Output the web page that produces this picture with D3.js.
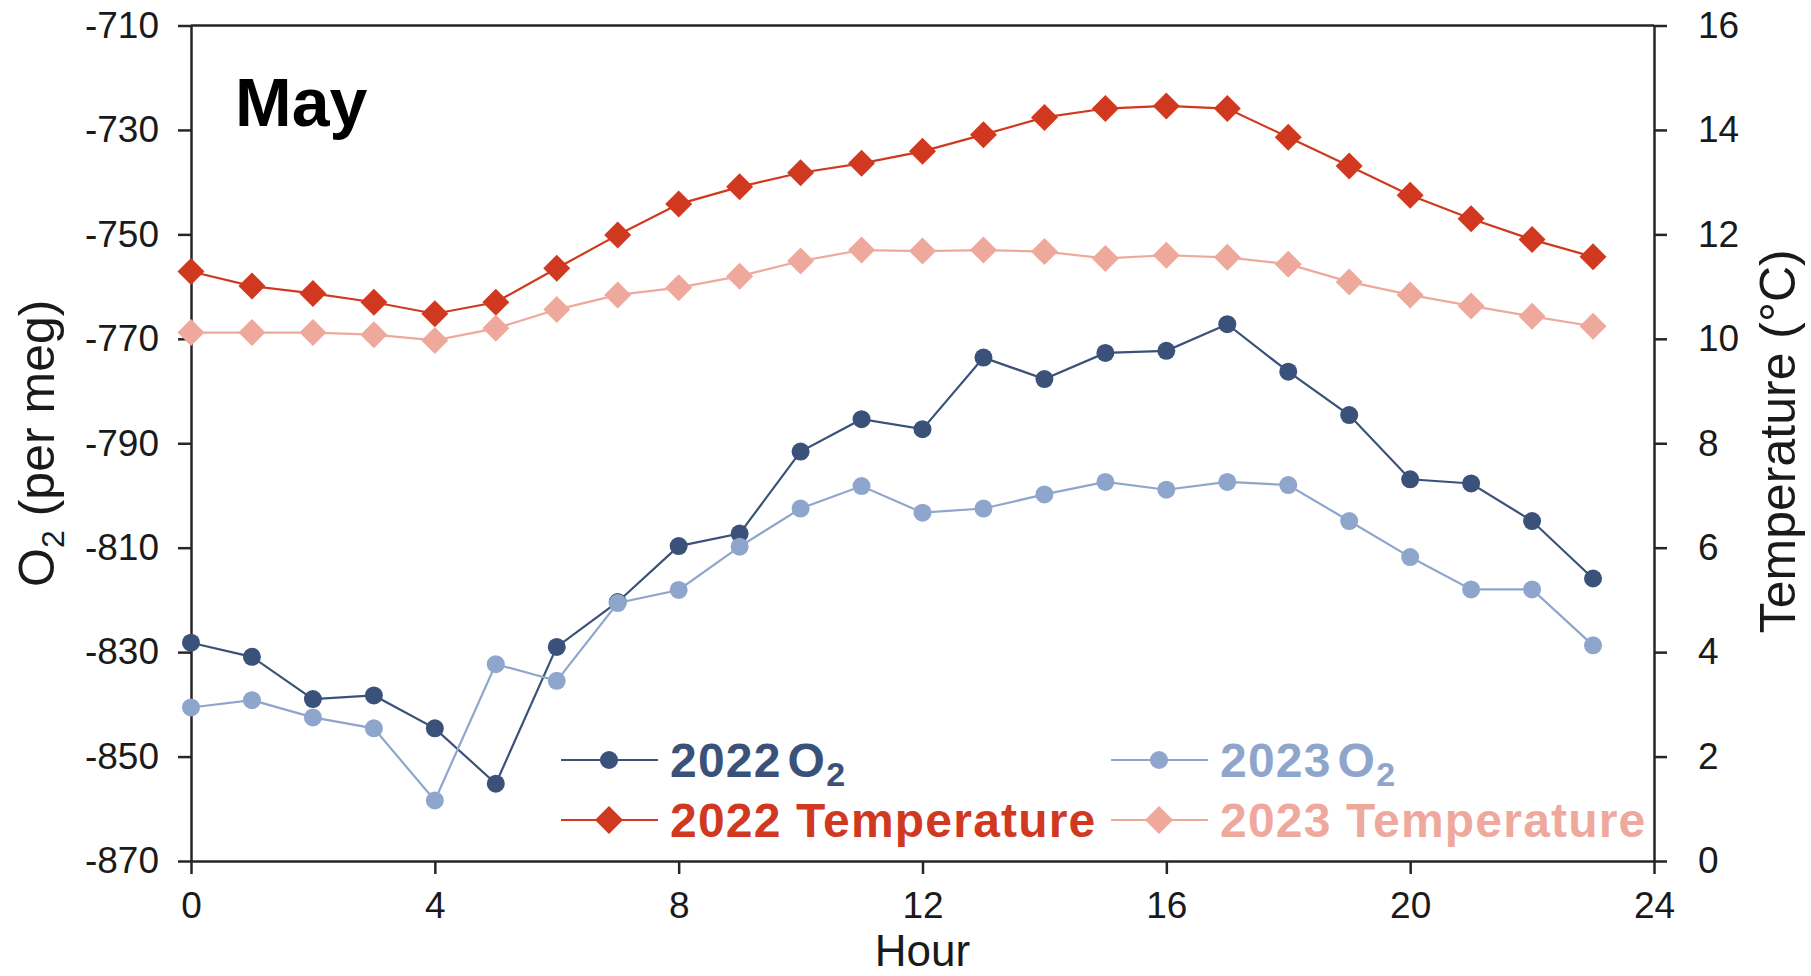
<!DOCTYPE html>
<html>
<head>
<meta charset="utf-8">
<script src="https://cdn.jsdelivr.net/npm/d3@7"></script>
<style>
  html, body { margin: 0; padding: 0; background: #ffffff; }
  svg { display: block; }
  text { font-family: "Liberation Sans", Arial, "DejaVu Sans", sans-serif; }
</style>
</head>
<body>
<svg id="chart" width="1811" height="976"></svg>
<script>
// Hourly means for May
const hours = [0, 1, 2, 3, 4, 5, 6, 7, 8, 9, 10, 11, 12, 13, 14, 15, 16, 17, 18, 19, 20, 21, 22, 23];

const o2_2022 = [-828.2, -830.9, -839.0, -838.3, -844.6, -855.2, -829.0, -820.4, -809.7, -807.3, -791.6, -785.4,
                 -787.3, -773.6, -777.7, -772.7, -772.3, -767.2, -776.3, -784.6, -796.9, -797.7, -804.9, -815.9];
const o2_2023 = [-840.6, -839.2, -842.5, -844.6, -858.4, -832.3, -835.5, -820.6, -818.1, -809.8, -802.5, -798.2,
                 -803.3, -802.5, -799.8, -797.4, -798.9, -797.4, -798.0, -804.9, -811.8, -818.0, -818.0, -828.7];
const temp_2022 = [11.29, 11.01, 10.87, 10.70, 10.48, 10.70, 11.35, 11.99, 12.58, 12.91, 13.18, 13.36,
                   13.59, 13.91, 14.24, 14.41, 14.46, 14.41, 13.86, 13.31, 12.75, 12.30, 11.90, 11.57];
const temp_2023 = [10.12, 10.12, 10.12, 10.08, 9.97, 10.20, 10.56, 10.84, 10.98, 11.20, 11.49, 11.70,
                   11.68, 11.70, 11.67, 11.54, 11.60, 11.56, 11.43, 11.09, 10.84, 10.63, 10.43, 10.24];

// Axis ticks
const hourTicks = [0, 4, 8, 12, 16, 20, 24];
const o2Ticks = [-870, -850, -830, -810, -790, -770, -750, -730, -710];
const tempTicks = [0, 2, 4, 6, 8, 10, 12, 14, 16];

const panelTitle = "May";

const colors = {
  o2_2022: "#3a5279",
  o2_2023: "#8fa6cc",
  t_2022: "#d0391f",
  t_2023: "#eea99c",
  axis: "#262626"
};

const series = [
  { key: "o2_2022", name: "2022", sub: true, values: o2_2022, axis: "o2", shape: "circle", color: colors.o2_2022 },
  { key: "t_2022", name: "2022 Temperature", sub: false, values: temp_2022, axis: "t", shape: "diamond", color: colors.t_2022 },
  { key: "o2_2023", name: "2023", sub: true, values: o2_2023, axis: "o2", shape: "circle", color: colors.o2_2023 },
  { key: "t_2023", name: "2023 Temperature", sub: false, values: temp_2023, axis: "t", shape: "diamond", color: colors.t_2023 }
];

const svg = d3.select("#chart");
const m = { left: 191, right: 1654, top: 25.5, bottom: 861 };

const x = d3.scaleLinear().domain([0, 24]).range([m.left, m.right]);
const yO2 = d3.scaleLinear().domain([-870, -710]).range([m.bottom, m.top]);
const yT = d3.scaleLinear().domain([0, 16]).range([m.bottom, m.top]);

const tickFont = 37;
const plainNumber = d => String(d);

// Frame top edge
svg.append("line")
  .attr("x1", m.left).attr("x2", m.right)
  .attr("y1", m.top).attr("y2", m.top)
  .attr("stroke", colors.axis).attr("stroke-width", 2.5);

function styleAxis(g) {
  g.selectAll(".domain").attr("stroke", colors.axis).attr("stroke-width", 2.5);
  g.selectAll(".tick line").attr("stroke", colors.axis).attr("stroke-width", 2.5);
  g.selectAll(".tick text")
    .attr("fill", "#1a1a1a")
    .style("font-size", tickFont + "px")
    .style("font-family", '"Liberation Sans", Arial, sans-serif');
}

svg.append("g")
  .attr("transform", `translate(0,${m.bottom})`)
  .call(d3.axisBottom(x).tickValues(hourTicks).tickFormat(plainNumber).tickSize(13).tickSizeOuter(0).tickPadding(18))
  .call(styleAxis);

svg.append("g")
  .attr("transform", `translate(${m.left},0)`)
  .call(d3.axisLeft(yO2).tickValues(o2Ticks).tickFormat(plainNumber).tickSize(13).tickSizeOuter(0).tickPadding(19))
  .call(styleAxis);

svg.append("g")
  .attr("transform", `translate(${m.right},0)`)
  .call(d3.axisRight(yT).tickValues(tempTicks).tickFormat(plainNumber).tickSize(13).tickSizeOuter(0).tickPadding(31))
  .call(styleAxis);

// Axis titles
svg.append("text")
  .attr("x", (m.left + m.right) / 2).attr("y", 966)
  .attr("text-anchor", "middle")
  .style("font-size", "44px").attr("fill", "#1a1a1a")
  .text("Hour");

const o2Title = svg.append("text")
  .attr("transform", `translate(54,${(m.top + m.bottom) / 2}) rotate(-90)`)
  .attr("text-anchor", "middle")
  .style("font-size", "50px").attr("fill", "#1a1a1a");
o2Title.append("tspan").text("O");
o2Title.append("tspan").attr("dy", 10).style("font-size", "32px").text("2");
o2Title.append("tspan").attr("dy", -10).text(" (per meg)");

svg.append("text")
  .attr("transform", `translate(1795,${(m.top + m.bottom) / 2 - 2}) rotate(-90)`)
  .attr("text-anchor", "middle")
  .style("font-size", "50px").attr("fill", "#1a1a1a")
  .text("Temperature (°C)");

// Panel label
svg.append("text")
  .attr("x", 235).attr("y", 126)
  .style("font-size", "68px").style("font-weight", "bold").attr("fill", "#000")
  .text(panelTitle);

// Series lines and markers
const diamond = (h) => `M0,${-h}L${h},0L0,${h}L${-h},0Z`;

series.forEach(s => {
  const yScale = s.axis === "o2" ? yO2 : yT;
  const line = d3.line().x((d, i) => x(hours[i])).y(d => yScale(d));
  const g = svg.append("g").attr("class", "series-" + s.key);
  g.append("path")
    .datum(s.values)
    .attr("d", line)
    .attr("fill", "none")
    .attr("stroke", s.color)
    .attr("stroke-width", 2.2);
  if (s.shape === "circle") {
    g.selectAll("circle").data(s.values).join("circle")
      .attr("cx", (d, i) => x(hours[i]))
      .attr("cy", d => yScale(d))
      .attr("r", 9)
      .attr("fill", s.color);
  } else {
    g.selectAll("path.mk").data(s.values).join("path")
      .attr("class", "mk")
      .attr("transform", (d, i) => `translate(${x(hours[i])},${yScale(d)})`)
      .attr("d", diamond(13.5))
      .attr("fill", s.color);
  }
});

// Legend: two columns, two rows
const legendFont = 48;
const legendPos = {
  o2_2022: { x: 561, y: 760 },
  t_2022: { x: 561, y: 820 },
  o2_2023: { x: 1111, y: 760 },
  t_2023: { x: 1111, y: 820 }
};

series.forEach(s => {
  const p = legendPos[s.key];
  const g = svg.append("g").attr("transform", `translate(${p.x},${p.y})`);
  g.append("line").attr("x1", 0).attr("x2", 97).attr("y1", 0).attr("y2", 0)
    .attr("stroke", s.color).attr("stroke-width", 2.2);
  if (s.shape === "circle") {
    g.append("circle").attr("cx", 48).attr("cy", 0).attr("r", 9).attr("fill", s.color);
  } else {
    g.append("path").attr("transform", "translate(48,0)").attr("d", diamond(14)).attr("fill", s.color);
  }
  const t = g.append("text")
    .attr("x", 109).attr("y", legendFont * 0.358)
    .style("font-size", legendFont + "px").style("font-weight", "bold")
    .style("letter-spacing", "1.2px")
    .attr("fill", s.color);
  if (s.sub) {
    t.append("tspan").text(s.name);
    t.append("tspan").attr("dx", 6).text("O");
    t.append("tspan").attr("dy", 9).style("font-size", "34px").text("2");
  } else {
    t.text(s.name);
  }
});
</script>
</body>
</html>
